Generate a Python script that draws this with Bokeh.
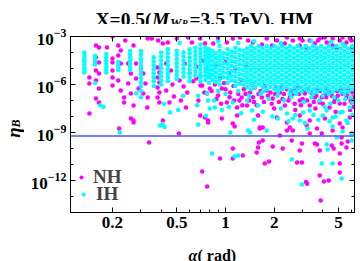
import numpy as np
from bokeh.plotting import figure
from bokeh.layouts import column, row
from bokeh.models import (FixedTicker, LogTickFormatter, CustomJSTickFormatter, LogAxis,
                          Span, Label, Legend, LegendItem)
from bokeh.embed import file_html
from bokeh.resources import INLINE

FONT = "Liberation Serif"

# ---------------- data (alpha in rad, log10(eta_B)) ----------------
# IH: columns of points (alpha, [log10 eta values])
ih_columns = [
    (0.134, [-4.0, -4.2, -4.4, -4.55, -4.75, -4.95, -5.1, -5.25]),
    (0.156, [-4.2, -4.4, -4.6, -4.75, -5.9]),
    (0.183, [-4.1, -4.3, -4.5, -4.7, -4.9, -5.1, -5.25]),
    (0.217, [-4.6, -4.8, -5.0, -5.1]),
    (0.257, [-3.9, -4.1, -4.3, -4.5, -4.7, -4.9, -5.1]),
    (0.30, [-3.9, -4.15, -4.4, -4.6, -4.85, -5.1, -5.35, -5.6, -5.85, -6.1, -6.4]),
    (0.36, [-4.3, -4.55, -4.8, -5.05, -5.3, -5.55, -5.8, -6.1]),
    (0.40, [-4.0, -4.25, -4.5, -4.75, -5.0, -5.25, -5.5, -5.75, -6.0]),
    (0.44, [-3.8, -4.05, -4.3, -4.55, -4.8, -5.05, -5.3, -5.55, -5.8]),
    (0.50, [-3.9, -4.15, -4.4, -4.65, -4.9, -5.15, -5.4, -5.65]),
    (0.55, [-4.0, -4.25, -4.5, -4.75, -5.0, -5.25, -5.5]),
    (0.60, [-3.8, -4.05, -4.3, -4.55, -4.8, -5.05, -5.3, -5.55, -5.8]),
    (0.65, [-3.7, -3.95, -4.2, -4.45, -4.7, -4.95, -5.2, -5.45]),
    (0.70, [-3.5, -3.8, -4.05, -4.3, -4.55, -4.8, -5.05, -5.3, -5.55, -5.8]),
    (0.75, [-3.7, -3.95, -4.2, -4.45, -4.7, -4.95, -5.2, -5.45, -5.7]),
    (0.79, [-3.8, -4.05, -4.3, -4.55, -4.8, -5.05, -5.3, -5.55, -5.9]),
    (0.83, [-3.9, -4.2, -4.5, -4.8, -5.1, -5.4, -5.7]),
    (0.87, [-4.05, -4.35, -4.65, -4.95, -5.25, -5.55, -5.85]),
    (0.92, [-3.6, -3.9, -4.2, -4.5, -4.8, -5.1, -5.4, -5.7, -6.0]),
    (0.97, [-4.05, -4.35, -4.65, -4.95, -5.25, -5.55]),
    (1.03, [-3.8, -4.1, -4.4, -4.7, -5.0, -5.3, -5.6, -5.9]),
    (1.09, [-3.95, -4.25, -4.55, -4.85, -5.15, -5.45, -5.75]),
    (1.15, [-3.7, -4.0, -4.3, -4.6, -4.9, -5.2, -5.5, -5.8, -6.1]),
    (1.22, [-3.85, -4.15, -4.45, -4.75, -5.05, -5.35, -5.65, -5.95]),
    (1.29, [-3.9, -4.2, -4.5, -4.8, -5.1, -5.4, -5.7, -6.0]),
    (1.36, [-3.75, -4.05, -4.35, -4.65, -4.95, -5.25, -5.55, -5.85, -6.15]),
    (1.44, [-3.6, -3.9, -4.2, -4.5, -4.8, -5.1, -5.4, -5.7, -6.0, -6.3]),
    (1.52, [-3.75, -4.05, -4.35, -4.65, -4.95, -5.25, -5.55, -5.85, -6.15]),
    (1.61, [-3.6, -3.9, -4.2, -4.5, -4.8, -5.1, -5.4, -5.7, -6.0]),
    (1.70, [-3.75, -4.05, -4.35, -4.65, -4.95, -5.25, -5.55, -5.85, -6.15, -6.45]),
    (1.80, [-3.6, -3.9, -4.2, -4.5, -4.8, -5.1, -5.4, -5.7, -6.0, -6.3]),
    (1.90, [-3.75, -4.05, -4.35, -4.65, -4.95, -5.25, -5.55, -5.85, -6.15]),
    (2.01, [-3.6, -3.9, -4.2, -4.5, -4.8, -5.1, -5.4, -5.7, -6.0, -6.3]),
    (2.12, [-3.75, -4.05, -4.35, -4.65, -4.95, -5.25, -5.55, -5.85, -6.15, -6.45]),
    (2.24, [-3.6, -3.9, -4.2, -4.5, -4.8, -5.1, -5.4, -5.7, -6.0, -6.3]),
    (2.37, [-3.75, -4.05, -4.35, -4.65, -4.95, -5.25, -5.55, -5.85, -6.15]),
    (2.50, [-3.6, -3.9, -4.2, -4.5, -4.8, -5.1, -5.4, -5.7, -6.0, -6.3, -6.6]),
    (2.65, [-3.75, -4.05, -4.35, -4.65, -4.95, -5.25, -5.55, -5.85, -6.15, -6.45]),
    (2.80, [-3.6, -3.9, -4.2, -4.5, -4.8, -5.1, -5.4, -5.7, -6.0, -6.3]),
    (2.96, [-3.75, -4.05, -4.35, -4.65, -4.95, -5.25, -5.55, -5.85, -6.15, -6.45]),
    (3.13, [-3.6, -3.9, -4.2, -4.5, -4.8, -5.1, -5.4, -5.7, -6.0, -6.3]),
    (3.30, [-3.75, -4.05, -4.35, -4.65, -4.95, -5.25, -5.55, -5.85, -6.15, -6.45]),
    (3.49, [-3.6, -3.9, -4.2, -4.5, -4.8, -5.1, -5.4, -5.7, -6.0, -6.3, -6.6]),
    (3.69, [-3.75, -4.05, -4.35, -4.65, -4.95, -5.25, -5.55, -5.85, -6.15, -6.45]),
    (3.90, [-3.6, -3.9, -4.2, -4.5, -4.8, -5.1, -5.4, -5.7, -6.0, -6.3]),
    (4.12, [-3.75, -4.05, -4.35, -4.65, -4.95, -5.25, -5.55, -5.85, -6.15, -6.45]),
    (4.36, [-3.6, -3.9, -4.2, -4.5, -4.8, -5.1, -5.4, -5.7, -6.0, -6.3, -6.6]),
    (4.61, [-3.75, -4.05, -4.35, -4.65, -4.95, -5.25, -5.55, -5.85, -6.15, -6.45]),
    (4.87, [-3.6, -3.9, -4.2, -4.5, -4.8, -5.1, -5.4, -5.7, -6.0, -6.3]),
    (5.15, [-3.75, -4.05, -4.35, -4.65, -4.95, -5.25, -5.55, -5.85, -6.15, -6.45]),
    (5.44, [-3.6, -3.9, -4.2, -4.5, -4.8, -5.1, -5.4, -5.7, -6.0, -6.3, -6.6]),
    (5.75, [-3.75, -4.05, -4.35, -4.65, -4.95, -5.25, -5.55, -5.85, -6.15, -6.45]),
    (6.08, [-3.6, -3.9, -4.2, -4.5, -4.8, -5.1, -5.4, -5.7, -6.0, -6.3]),
]

# IH: scattered points (alpha, log10 eta)
ih_points = [
    (0.168, -7.3), (0.176, -7.4), (0.222, -9.0), (0.28, -6.55), (0.30, -6.8),
    (0.394, -8.56), (0.41, -8.5), (0.42, -8.65), (0.417, -7.2), (0.454, -7.75), (0.51, -7.6),
    (0.547, -6.7), (0.667, -7.3), (0.677, -6.7), (0.677, -8.5), (0.77, -6.55), (0.758, -7.95),
    (0.78, -7.0), (0.80, -7.5), (0.86, -7.44), (1.11, -7.13), (1.36, -7.0), (1.46, -7.63),
    (1.59, -7.31), (2.11, -8.13), (2.40, -7.81), (2.61, -8.13), (2.88, -8.25), (3.02, -7.75),
    (3.32, -7.63), (3.99, -7.94), (4.23, -7.63), (4.6, -8.06), (5.09, -7.75), (5.88, -7.44),
    (5.6, -8.25),
    (0.9, -6.4), (1.0, -6.6), (1.2, -6.4), (1.4, -6.7), (1.65, -6.6), (1.85, -6.9), (2.1, -6.7),
    (2.3, -7.0), (2.55, -6.8), (2.75, -6.6), (3.05, -7.1), (3.4, -6.8), (3.8, -7.0), (4.0, -6.7),
    (4.45, -7.2), (4.7, -6.8), (5.0, -7.0), (5.5, -6.9), (5.95, -6.8), (6.1, -7.1),
    (0.85, -7.0), (0.95, -7.6), (1.05, -7.4), (1.25, -7.8), (1.5, -8.2), (1.7, -7.7), (1.95, -8.0),
    (2.2, -7.5), (2.45, -8.3), (2.7, -7.9), (3.1, -8.4), (3.5, -7.9), (3.75, -8.2), (4.1, -7.4),
    (4.4, -8.3), (4.8, -8.0), (5.3, -7.7), (5.7, -8.4), (6.1, -7.9),
    (0.52, -3.4), (0.9, -3.3), (1.2, -3.4), (1.5, -3.3), (2.2, -3.4), (3.4, -3.3), (4.5, -3.35),
    (5.3, -3.45),
    (0.826, -10.31), (1.14, -10.5), (1.2, -10.44), (2.57, -10.69), (2.97, -12.25), (3.94, -10.94),
    (4.23, -9.75), (4.29, -10.06), (4.6, -10.94), (5.23, -11.88), (4.88, -9.31), (6.04, -9.5),
    (1.38, -8.88), (1.42, -9.0), (1.8, -8.88), (1.07, -9.0), (3.22, -8.75), (4.6, -8.63),
    (5.3, -8.94), (6.04, -9.13),
]

# NH: points at small alpha
nh_left = [
    (0.144, -5.56), (0.144, -5.94), (0.144, -7.81),
    (0.158, -3.56), (0.165, -3.69), (0.158, -4.31), (0.165, -4.63), (0.158, -5.13), (0.165, -5.31),
    (0.158, -5.75), (0.165, -6.25), (0.158, -6.88), (0.165, -7.13),
    (0.2, -3.0), (0.2, -4.38), (0.2, -4.63), (0.2, -5.13), (0.2, -5.56), (0.2, -6.06),
    (0.217, -3.56), (0.225, -3.88), (0.217, -4.19), (0.225, -4.69), (0.217, -5.75), (0.225, -6.38),
    (0.236, -6.81), (0.236, -7.13),
    (0.25, -4.69), (0.26, -5.31), (0.25, -5.94), (0.26, -6.56), (0.27, -7.31), (0.26, -8.13),
    (0.27, -8.25),
    (0.28, -4.69), (0.30, -5.0), (0.31, -5.31), (0.28, -5.63), (0.32, -5.94), (0.29, -6.25),
    (0.31, -6.56), (0.33, -6.81), (0.33, -3.13), (0.328, -7.44),
    (0.38, -4.94), (0.39, -5.25), (0.38, -5.56), (0.39, -5.88), (0.38, -6.19), (0.39, -6.5),
    (0.38, -6.81), (0.39, -7.13), (0.383, -3.25),
    (0.43, -4.69), (0.46, -5.13), (0.44, -5.56), (0.47, -6.0), (0.43, -6.38), (0.48, -6.75),
    (0.45, -7.13),
    (0.52, -5.75), (0.55, -6.13), (0.58, -6.5), (0.53, -7.0), (0.57, -7.44), (0.587, -3.06),
    (0.697, -7.94), (0.78, -8.25), (0.66, -5.63), (0.70, -6.06), (0.74, -6.5), (0.68, -7.0),
    (0.22, -8.75), (0.27, -8.38), (0.337, -9.63), (0.41, -8.25), (0.515, -9.06), (0.717, -11.44),
    (0.77, -12.38), (0.78, -8.38),
    (0.185, -3.69), (0.24, -3.25), (0.27, -3.56), (0.35, -3.13), (0.41, -3.44), (0.44, -3.38),
    (0.5, -3.13), (0.62, -3.38), (0.697, -3.13), (0.84, -3.44),
]

# NH: points along the top edge
nh_top = [
    (0.747, -3.44), (0.9, -3.13), (1.02, -3.38), (1.11, -3.13), (1.23, -3.06), (1.38, -3.25),
    (1.48, -3.38), (1.80, -3.13), (2.08, -3.25), (2.40, -3.06), (2.61, -3.25), (2.88, -3.13),
    (3.0, -3.25), (3.32, -3.25), (3.57, -3.44), (3.73, -3.25), (3.83, -3.13), (4.23, -3.38),
    (4.6, -3.13), (4.6, -3.56), (4.88, -3.75), (5.09, -3.25), (5.3, -3.06), (5.6, -3.38),
    (5.88, -3.13), (6.04, -3.69), (6.04, -3.25), (3.18, -3.75), (3.68, -3.75), (2.88, -3.56),
    (5.45, -3.56), (4.12, -3.06), (2.33, -3.44), (1.68, -3.5), (1.94, -3.56),
]

# NH: points in and just below the dense band
nh_band = [
    (0.717, -6.06), (0.77, -6.56), (0.80, -6.25), (0.90, -6.69), (0.95, -6.25), (1.02, -7.13),
    (1.07, -6.5), (1.18, -7.44), (1.26, -6.81), (1.36, -7.31), (1.42, -6.5), (1.52, -6.19),
    (1.68, -6.81), (1.80, -6.38), (1.96, -6.88), (2.17, -6.5), (2.33, -7.31), (2.50, -6.81),
    (2.69, -6.38), (2.88, -7.0), (3.1, -6.56), (3.32, -7.31), (3.57, -6.81), (3.83, -7.13),
    (4.12, -6.56), (4.4, -7.44), (4.75, -6.88), (5.09, -7.19), (5.6, -6.81), (6.04, -7.13),
    (0.747, -8.06), (0.95, -8.13), (1.18, -7.94), (1.59, -7.94), (2.08, -8.06), (2.40, -8.38),
    (2.88, -7.94), (3.32, -8.25), (4.12, -8.13), (5.09, -8.44), (5.88, -8.06),
    (1.63, -8.75), (1.70, -9.5), (2.61, -8.88),
    (1.45, -6.0), (1.6, -6.6), (1.75, -6.1), (1.9, -6.5), (2.05, -6.2), (2.25, -6.9), (2.4, -6.3),
    (2.6, -6.6), (2.8, -6.2), (3.0, -6.9), (3.2, -6.3), (3.45, -6.6), (3.7, -6.3), (3.95, -6.8),
    (4.25, -6.3), (4.55, -6.7), (4.9, -6.4), (5.3, -6.6), (5.75, -6.3), (6.1, -6.5), (1.3, -6.3),
    (1.12, -6.1), (0.98, -5.9), (0.86, -6.0), (1.22, -7.0), (1.5, -7.1), (2.0, -7.5), (2.7, -7.6),
    (3.6, -7.5), (4.8, -7.7), (5.9, -7.6),
    (0.72, -4.5), (0.76, -5.0), (0.82, -5.4), (0.87, -4.8), (0.93, -5.6), (1.0, -4.6), (1.05, -5.3),
    (1.15, -5.0), (1.25, -5.7), (1.35, -4.9), (0.70, -5.5), (0.66, -4.9), (0.6, -5.3), (0.56, -4.7),
    (0.63, -5.8),
    (0.82, -6.4), (0.88, -6.9), (0.94, -7.2), (1.0, -6.3), (1.06, -6.8), (1.13, -7.0), (1.2, -6.6),
    (1.27, -7.3), (1.33, -6.6), (1.4, -7.0), (1.48, -6.8), (1.56, -7.3), (1.65, -6.4), (1.73, -7.1),
    (1.83, -6.7), (1.93, -7.2), (2.03, -6.6), (2.14, -7.1), (2.2, -6.2), (2.3, -6.6), (2.45, -7.0),
    (2.55, -6.4), (2.68, -7.2), (2.85, -6.6), (2.93, -7.3), (3.05, -6.4), (3.2, -7.0), (3.38, -6.5),
    (3.52, -7.1), (3.65, -6.7), (3.85, -6.4), (4.0, -7.2), (4.2, -6.8), (4.4, -6.5), (4.7, -7.1),
    (4.95, -6.7), (5.2, -6.3), (5.45, -7.2), (5.65, -6.6), (5.95, -7.0), (6.15, -6.8), (6.2, -7.4),
]

# NH: points near and below the observed value
nh_low = [
    (1.11, -10.0), (1.11, -10.63), (0.925, -10.63), (1.28, -10.44), (1.56, -10.25), (1.59, -9.94),
    (1.61, -9.63), (1.75, -10.94), (1.86, -10.81), (1.96, -9.88), (2.26, -10.0), (2.57, -9.5),
    (2.97, -9.69), (2.88, -10.13), (2.77, -10.88), (2.97, -10.88), (3.15, -12.1), (3.2, -12.2),
    (3.57, -9.69), (3.68, -9.75), (3.83, -10.13), (3.83, -11.69), (4.06, -12.06), (4.35, -12.0),
    (3.88, -13.25), (5.09, -10.31), (5.09, -10.94), (5.09, -11.5), (5.23, -9.69), (5.6, -9.94),
    (5.7, -9.56), (6.04, -9.06), (5.23, -9.31), (4.67, -10.0), (4.54, -9.81),
    (1.11, -8.44), (1.14, -8.63), (1.63, -8.69), (1.70, -8.69), (2.17, -9.19), (2.40, -8.88),
    (2.5, -8.69), (3.18, -8.56), (3.32, -9.06), (3.68, -8.75), (3.94, -9.06), (4.6, -8.88),
    (5.3, -8.69),
]

eta_observed = 6.1e-10

x_major = [0.2, 0.5, 1, 2, 5]
x_minor = [0.3, 0.4, 0.6, 0.7, 0.8, 0.9, 3, 4, 6]
y_major = [1e-12, 1e-9, 1e-6, 1e-3]
y_minor = [1e-14, 1e-13, 1e-11, 1e-10, 1e-8, 1e-7, 1e-5, 1e-4]


def from_columns(cols):
    xs, ys = [], []
    for a, exps in cols:
        for e in exps:
            xs.append(a)
            ys.append(10.0 ** e)
    return xs, ys


def from_points(*groups):
    xs, ys = [], []
    for g in groups:
        for a, e in g:
            xs.append(a)
            ys.append(10.0 ** e)
    return xs, ys


nh_x, nh_y = from_points(nh_left, nh_top, nh_band, nh_low)
ihc_x, ihc_y = from_columns(ih_columns)
ihp_x, ihp_y = from_points(ih_points)
ih_x, ih_y = ihc_x + ihp_x, ihc_y + ihp_y

# ---------------- main plot ----------------
p = figure(width=336, height=213, x_axis_type="log", y_axis_type="log",
           x_range=(0.11, 6.28), y_range=(1e-14, 1e-3), title=None,
           output_backend="svg", toolbar_location=None,
           min_border_left=46, min_border_right=6, min_border_top=12, min_border_bottom=25)
p.xgrid.visible = False
p.ygrid.visible = False
p.outline_line_color = "black"
p.outline_line_width = 1
p.background_fill_color = "white"
p.border_fill_color = "white"

r_nh = p.scatter(nh_x, nh_y, size=4.5, marker="circle", fill_color="#ff00ff", line_color=None)
r_ih = p.scatter(ih_x, ih_y, size=4.5, marker="circle", fill_color="#00ffff", line_color=None)

p.add_layout(Span(location=eta_observed, dimension="width", line_color="#4f58e0", line_width=1.5))


def style_axis(ax, show_labels):
    ax.axis_line_color = "black"
    ax.major_tick_in = 5
    ax.major_tick_out = 0
    ax.minor_tick_in = 3
    ax.minor_tick_out = 0
    ax.major_tick_line_color = "black"
    ax.minor_tick_line_color = "black"
    ax.major_label_text_font = FONT
    ax.major_label_text_font_style = "bold"
    ax.major_label_text_color = "black"
    if not show_labels:
        ax.formatter = CustomJSTickFormatter(code="return '';")
        ax.major_label_text_font_size = "0px"
        ax.major_label_standoff = 0


xax = p.xaxis[0]
xax.ticker = FixedTicker(ticks=x_major, minor_ticks=x_minor)
xax.formatter = CustomJSTickFormatter(code="return tick.toString();")
style_axis(xax, True)
xax.major_label_text_font_size = "17px"
xax.major_label_standoff = 4

yax = p.yaxis[0]
yax.ticker = FixedTicker(ticks=y_major, minor_ticks=y_minor)
yax.formatter = LogTickFormatter()
style_axis(yax, True)
yax.major_label_text_font_size = "17px"
yax.major_label_standoff = 4

top_ax = LogAxis(ticker=FixedTicker(ticks=x_major, minor_ticks=x_minor))
style_axis(top_ax, False)
p.add_layout(top_ax, "above")
right_ax = LogAxis(ticker=FixedTicker(ticks=y_major, minor_ticks=y_minor))
style_axis(right_ax, False)
p.add_layout(right_ax, "right")

# legend
common = dict(glyph_width=10, glyph_height=10, padding=0, spacing=0, margin=0,
              border_line_color=None, background_fill_alpha=0,
              label_text_font=FONT, label_text_font_style="bold",
              label_text_font_size="19px")
leg_nh = Legend(items=[LegendItem(label="NH", renderers=[r_nh])], location=(6, 24),
                label_standoff=7, **common)
leg_ih = Legend(items=[LegendItem(label="IH", renderers=[r_ih])], location=(8, 7),
                label_standoff=8, **common)
p.add_layout(leg_nh)
p.add_layout(leg_ih)


# ---------------- text panels ----------------
def text_panel(w, h):
    f = figure(width=w, height=h, x_axis_type=None, y_axis_type=None, title=None,
               x_range=(0, 1), y_range=(0, 1), min_border=0,
               min_border_left=0, min_border_right=0, min_border_top=0, min_border_bottom=0,
               output_backend="svg", toolbar_location=None)
    f.outline_line_color = None
    f.background_fill_color = "white"
    f.border_fill_color = "white"
    return f


def lab(fig, x, y, text, size, style="bold", angle=0.0, baseline="alphabetic", align="left"):
    fig.add_layout(Label(x=x, y=y, x_units="screen", y_units="screen", text=text,
                         text_font=FONT, text_font_style=style, text_font_size=size,
                         text_color="black", angle=angle, text_baseline=baseline,
                         text_align=align))


# title: X=0.5(M_{W_R}=3.5 TeV), HM
t = text_panel(360, 24)
lab(t, 95, 5.5, "X=0.5(", "19.5px")
lab(t, 151.5, 5.5, "M", "19.5px", "bold italic")
lab(t, 169.5, 2.5, "W", "13px", "bold italic")
lab(t, 181.5, 1.5, "R", "9px", "bold italic")
lab(t, 189, 5.5, "=3.5 TeV), HM", "19.5px")

# y label: eta_B (rotated); this panel's frame lines up with the plot frame
yl = text_panel(24, 213)
lab(yl, 12.5, 80, "η", "19px", "bold italic", angle=np.pi / 2, baseline="middle", align="center")
lab(yl, 15, 89, "B", "12px", "bold italic", angle=np.pi / 2, baseline="middle", align="center")

# x label: alpha( rad)
xl = text_panel(360, 24)
lab(xl, 188, 6.5, "α", "16px", "bold italic")
lab(xl, 197, 6.5, "( rad)", "16px")

layout = column(t, row(yl, p), xl)

open("out.html", "w").write(file_html(layout, INLINE))
